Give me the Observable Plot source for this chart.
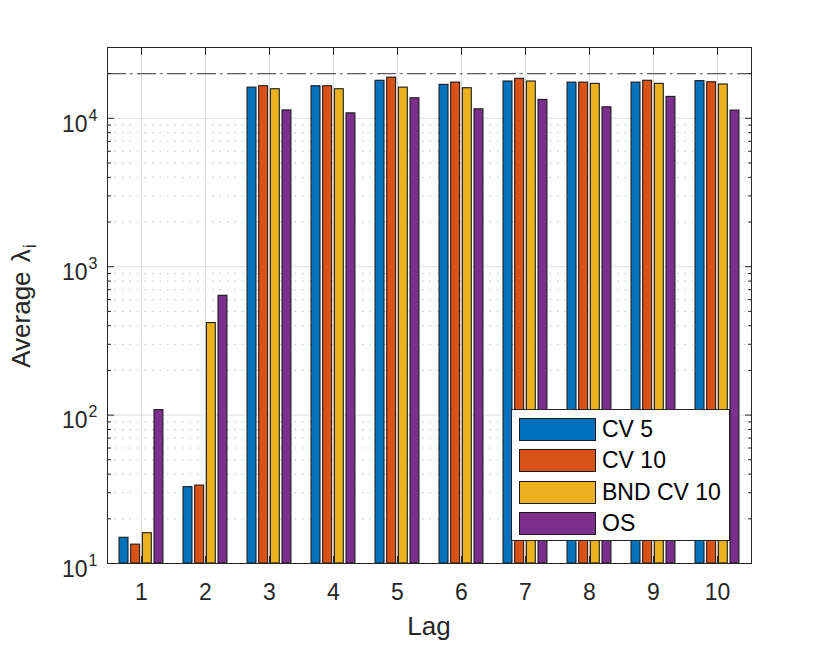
<!DOCTYPE html>
<html>
<head>
<meta charset="utf-8">
<script src="https://cdn.jsdelivr.net/npm/d3@7"></script>
<script src="https://cdn.jsdelivr.net/npm/@observablehq/plot@0.6"></script>
<style>
  html, body { margin: 0; padding: 0; background: #fff; }
  #wrap { position: relative; width: 830px; height: 646px; font-family: "Liberation Sans", Arial, sans-serif; }
  #legend { position: absolute; left: 511px; top: 409px; width: 219px; height: 132px; background: #fff; border: 1px solid #262626; box-sizing: border-box; }
  .row { position: absolute; left: 7px; height: 24px; display: flex; align-items: center; }
  .sw { width: 77px; height: 23px; box-sizing: border-box; border: 1.2px solid #1a1a1a; }
  .lb { margin-left: 6px; font-size: 23px; color: #000; white-space: nowrap; }
</style>
</head>
<body>
<div id="wrap"></div>
<script>
// ---- data ----
const lags = [1, 2, 3, 4, 5, 6, 7, 8, 9, 10];
const seriesNames = ["CV 5", "CV 10", "BND CV 10", "OS"];
const cv5    = [14.9, 32.7, 16100, 16450, 17900, 16800, 17700, 17400, 17400, 17800];
const cv10   = [13.4, 33.5, 16450, 16450, 18800, 17400, 18450, 17400, 17900, 17500];
const bndCv10 = [16.0, 417, 15700, 15700, 16100, 15950, 17700, 17060, 17060, 16900];
const os     = [108, 637, 11300, 10800, 13650, 11500, 13300, 11860, 13940, 11270];
const seriesValues = [cv5, cv10, bndCv10, os];
const colors = ["#0072BD", "#D95319", "#EDB120", "#7E2F8E"];
const yMajorTicks = [10, 100, 1000, 10000];
const yMinorTicks = [20,30,40,50,60,70,80,90,200,300,400,500,600,700,800,900,2000,3000,4000,5000,6000,7000,8000,9000,20000];
const yDomain = [10, 30000];
const refLevel = 20000;

// ---- layout ----
const W = 830, H = 646;
const mL = 107, mR = 79, mT = 47, mB = 83;
const bw = (W - mL - mR) / lags.length;
const slot = 11.65, barW = 9.3;

const rows = [];
seriesNames.forEach((s, k) => lags.forEach((lag, i) => rows.push({lag, series: s, k, value: seriesValues[k][i]})));

const barMarks = seriesNames.map((s, k) => {
  const off = (k - (seriesNames.length - 1) / 2) * slot;
  return Plot.barY(rows.filter(d => d.k === k), {
    x: "lag", y1: yDomain[0], y2: "value",
    fill: colors[k], stroke: "#1a1a1a", strokeWidth: 1.1,
    insetLeft: bw / 2 + off - barW / 2,
    insetRight: bw / 2 - off - barW / 2
  });
});

const axisCol = "#262626";
const noText = () => "";
const chart = Plot.plot({
  width: W, height: H,
  marginLeft: mL, marginRight: mR, marginTop: mT, marginBottom: mB,
  x: {type: "band", domain: lags, padding: 0},
  y: {type: "log", domain: yDomain},
  style: {fontFamily: "'Liberation Sans', Arial, sans-serif", color: axisCol, background: "#fff"},
  marks: [
    Plot.ruleY(yMinorTicks, {stroke: "#c2c2c2", strokeDasharray: "1.5,6"}),
    Plot.ruleY(yMajorTicks, {stroke: "#dedede"}),
    Plot.gridX({stroke: "#dedede", strokeOpacity: 1}),
    ...barMarks,
    Plot.ruleY([refLevel], {stroke: "#5a5a5a", strokeWidth: 1.3, strokeDasharray: "19,4.5,2,4.5"}),
    Plot.frame({stroke: axisCol}),
    Plot.axisY(yMajorTicks, {anchor: "left", tickSize: -7, tickFormat: noText, label: null, stroke: axisCol}),
    Plot.axisY(yMinorTicks, {anchor: "left", tickSize: -4, tickFormat: noText, label: null, stroke: axisCol}),
    Plot.axisY(yMajorTicks, {anchor: "right", tickSize: -7, tickFormat: noText, label: null, stroke: axisCol}),
    Plot.axisY(yMinorTicks, {anchor: "right", tickSize: -4, tickFormat: noText, label: null, stroke: axisCol}),
    Plot.axisY(yMajorTicks, {anchor: "left", tickSize: 0, tickPadding: 10, dy: 6, fontSize: 23, label: null,
      tickFormat: d => String(Math.round(Math.log10(d)))}),
    Plot.axisX({anchor: "bottom", tickSize: -7, tickFormat: noText, label: null, stroke: axisCol}),
    Plot.axisX({anchor: "top", tickSize: -7, tickFormat: noText, label: null, stroke: axisCol}),
    Plot.axisX({anchor: "bottom", tickSize: 0, tickPadding: 20, fontSize: 23, label: null})
  ]
});

// superscript exponents on y tick labels
const svgNS = "http://www.w3.org/2000/svg";
chart.querySelectorAll('g[aria-label="y-axis tick label"] text').forEach(t => {
  const e = t.textContent;
  if (!e) return;
  t.textContent = "10";
  const ts = document.createElementNS(svgNS, "tspan");
  ts.setAttribute("dy", "-11");
  ts.setAttribute("dx", "1");
  ts.setAttribute("font-size", "16");
  ts.textContent = e;
  t.appendChild(ts);
});

const svg = d3.select(chart);
const yl = svg.append("text")
  .attr("transform", `translate(30,${(mT + H - mB) / 2 + 1}) rotate(-90)`)
  .attr("text-anchor", "middle")
  .attr("font-size", 26)
  .attr("fill", axisCol);
yl.append("tspan").text("Average ");
yl.append("tspan").attr("dx", 2).text("λ");
yl.append("tspan").attr("font-size", 18).attr("dy", 6).attr("dx", 1).text("i");

svg.append("text")
  .attr("x", (mL + W - mR) / 2).attr("y", 635)
  .attr("text-anchor", "middle")
  .attr("font-size", 26)
  .attr("fill", axisCol)
  .text("Lag");

const wrap = document.getElementById("wrap");
wrap.appendChild(chart);

// legend
const leg = document.createElement("div");
leg.id = "legend";
seriesNames.forEach((s, k) => {
  const r = document.createElement("div");
  r.className = "row";
  r.style.top = (7 + k * 31.5) + "px";
  r.innerHTML = `<div class="sw" style="background:${colors[k]}"></div><div class="lb">${s}</div>`;
  leg.appendChild(r);
});
wrap.appendChild(leg);
</script>
</body>
</html>
